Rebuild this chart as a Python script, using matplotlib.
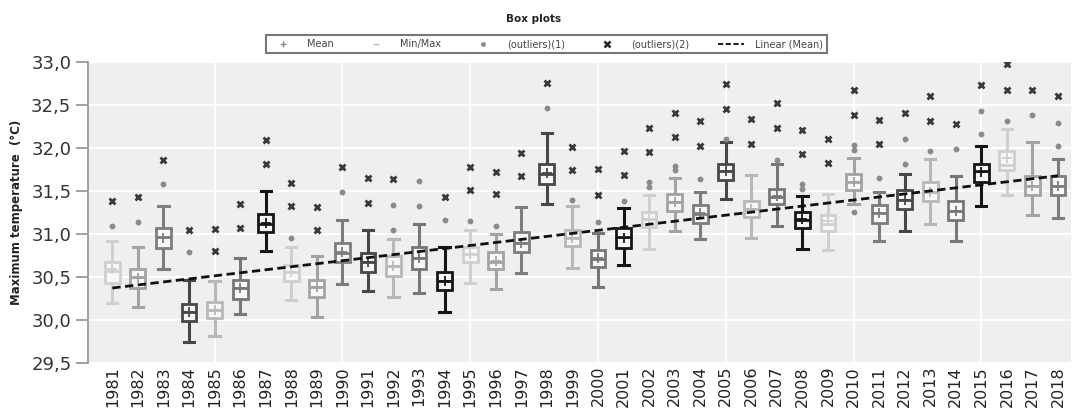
import numpy as np
import matplotlib
matplotlib.use("Agg")
import matplotlib.pyplot as plt
from matplotlib.lines import Line2D
from matplotlib.ticker import FuncFormatter

years = list(range(1981, 2019))

wmin = [30.20, 30.15, 30.59, 29.74, 29.81, 30.07, 30.80, 30.23, 30.04, 30.42,
        30.34, 30.27, 30.32, 30.10, 30.43, 30.36, 30.55, 31.35, 30.60, 30.38,
        30.64, 30.83, 31.03, 30.94, 31.41, 30.96, 31.09, 30.83, 30.81, 31.35,
        30.92, 31.03, 31.12, 30.92, 31.33, 31.45, 31.22, 31.19]
wmax = [30.92, 30.85, 31.33, 30.47, 30.45, 30.72, 31.50, 30.85, 30.74, 31.16,
        31.05, 30.94, 31.12, 30.85, 31.05, 31.00, 31.32, 32.17, 31.33, 31.01,
        31.30, 31.45, 31.65, 31.49, 32.07, 31.69, 31.82, 31.44, 31.47, 31.89,
        31.49, 31.70, 31.87, 31.67, 32.02, 32.22, 32.07, 31.87]
q1 = [30.43, 30.37, 30.84, 29.99, 30.02, 30.25, 31.02, 30.46, 30.27, 30.68,
      30.56, 30.51, 30.59, 30.35, 30.68, 30.59, 30.79, 31.58, 30.86, 30.62,
      30.84, 31.08, 31.27, 31.13, 31.63, 31.20, 31.35, 31.07, 31.03, 31.51,
      31.13, 31.29, 31.38, 31.16, 31.61, 31.74, 31.45, 31.45]
q3 = [30.68, 30.59, 31.07, 30.19, 30.21, 30.47, 31.23, 30.64, 30.47, 30.90,
      30.78, 30.74, 30.85, 30.56, 30.85, 30.79, 31.02, 31.82, 31.05, 30.81,
      31.07, 31.26, 31.47, 31.34, 31.82, 31.38, 31.52, 31.26, 31.22, 31.70,
      31.34, 31.51, 31.60, 31.38, 31.82, 31.96, 31.67, 31.67]
medians = [30.57, 30.50, 30.97, 30.10, 30.12, 30.37, 31.12, 30.56, 30.38, 30.78,
           30.68, 30.63, 30.72, 30.45, 30.77, 30.68, 30.90, 31.70, 30.96, 30.71,
           30.97, 31.17, 31.37, 31.23, 31.73, 31.29, 31.43, 31.16, 31.12, 31.61,
           31.24, 31.40, 31.49, 31.27, 31.73, 31.80, 31.56, 31.56]
means = [30.59, 30.49, 30.96, 30.10, 30.12, 30.37, 31.13, 30.56, 30.38, 30.79,
         30.68, 30.63, 30.72, 30.46, 30.77, 30.69, 30.90, 31.71, 30.96, 30.72,
         30.96, 31.17, 31.37, 31.24, 31.73, 31.29, 31.44, 31.17, 31.15, 31.61,
         31.24, 31.40, 31.49, 31.27, 31.72, 31.88, 31.56, 31.56]
outliers1 = [[31.09], [31.14], [31.58], [30.79], [], [], [], [30.95], [], [31.49],
             [], [31.34, 31.05], [31.62, 31.33], [31.16], [31.15], [31.09], [],
             [32.46], [31.40], [31.14], [31.38], [31.61, 31.55], [31.79, 31.74],
             [31.64], [32.10], [], [31.86], [31.58, 31.52], [], [32.03, 31.98, 31.26],
             [31.65], [32.11, 31.82], [31.97], [31.99], [32.43, 32.16], [32.32],
             [32.38], [32.29, 32.02]]
outliers2 = [[31.38], [31.43], [31.86], [31.05], [31.06, 30.80], [31.35, 31.07],
             [32.09, 31.81], [31.59, 31.33], [31.32, 31.05], [31.78], [31.65, 31.36],
             [31.64], [], [31.43], [31.78, 31.51], [31.72, 31.47], [31.94, 31.67],
             [32.76], [32.01, 31.74], [31.76, 31.46], [31.97, 31.69], [32.23, 31.95],
             [32.41, 32.13], [32.31, 32.02], [32.74, 32.45], [32.34, 32.05],
             [32.52, 32.23], [32.21, 31.93], [32.10, 31.83], [32.67, 32.38],
             [32.33, 32.05], [32.41], [32.60, 32.31], [32.28], [32.73], [32.98, 32.67],
             [32.68], [32.60]]

# per-year grey shade (7-step cycle as in the reference)
shade_cycle = ["#cfcfcf", "#a3a3a3", "#7d7d7d", "#474747", "#b8b8b8", "#777777", "#161616"]
colors = [shade_cycle[i % 7] for i in range(len(years))]

plt.rcParams['font.family'] = ['DejaVu Sans']

fig = plt.figure(figsize=(10.74, 4.08), dpi=100)
ax = fig.add_axes([0.082, 0.110, 0.915, 0.738])
ax.set_facecolor("#efefef")

pos = np.arange(len(years))
stats = []
for i in range(len(years)):
    stats.append(dict(med=medians[i], q1=q1[i], q3=q3[i], whislo=wmin[i],
                      whishi=wmax[i], mean=means[i], fliers=[]))

bp = ax.bxp(stats, positions=pos, widths=0.58, showmeans=True, patch_artist=True,
            showfliers=False, manage_ticks=False)
for i in range(len(years)):
    c = colors[i]
    bp['boxes'][i].set(facecolor="#f7f7f7", edgecolor=c, linewidth=2.0, zorder=3)
    bp['medians'][i].set(color=c, linewidth=2.0, zorder=4)
    for w in bp['whiskers'][2 * i:2 * i + 2]:
        w.set(color=c, linewidth=2.2, zorder=2)
    for cp in bp['caps'][2 * i:2 * i + 2]:
        cp.set(color=c, linewidth=2.2, zorder=2)
        cp.set_xdata([pos[i] - 0.2, pos[i] + 0.2])
    bp['means'][i].set(marker='+', markeredgecolor=c, markerfacecolor=c,
                       markersize=7, markeredgewidth=1.3, zorder=5)

# outliers
for i in range(len(years)):
    if outliers1[i]:
        ax.plot([pos[i]] * len(outliers1[i]), outliers1[i], linestyle='none',
                marker='o', markersize=3.2, color='#8a8a8a', zorder=4)
    if outliers2[i]:
        ax.plot([pos[i]] * len(outliers2[i]), outliers2[i], linestyle='none',
                marker='x', markersize=4.5, markeredgewidth=2.0, color='#3a3a3a', zorder=4)

# linear trend of the means
coef = np.polyfit(pos, means, 1)
ax.plot([pos[0], pos[-1]], np.polyval(coef, [pos[0], pos[-1]]), color='#111111',
        linestyle=(0, (3, 1.6)), linewidth=2.0, zorder=6)

ax.set_ylim(29.5, 33.0)
ax.set_xlim(-0.95, len(years) - 0.5)
ax.set_yticks(np.arange(29.5, 33.01, 0.5))
ax.yaxis.set_major_formatter(FuncFormatter(lambda v, p: f"{v:.1f}".replace('.', ',')))
ax.set_xticks(pos)
ax.set_xticklabels([str(y) for y in years], rotation=90, fontsize=11.5, color='#222222')
ax.tick_params(axis='x', length=0, pad=2)
ax.tick_params(axis='y', length=9, width=1.3, color='#9a9a9a', labelsize=13,
               labelcolor='#333333', pad=3)

# grid: horizontal at every 0.5, vertical every 5 years
for v in np.arange(29.5, 33.01, 0.5):
    ax.axhline(v, color='white', linewidth=1.4, zorder=0.5)
for i in range(4, len(years), 5):
    ax.axvline(pos[i], color='white', linewidth=1.4, zorder=0.5)

for s in ['top', 'right', 'bottom']:
    ax.spines[s].set_visible(False)
ax.spines['left'].set_color('#9a9a9a')
ax.spines['left'].set_linewidth(1.3)

ax.set_ylabel("Maximum temperature  (°C)", fontsize=8.5, fontweight='bold',
              color='#222222', labelpad=6)

fig.text(0.497, 0.953, "Box plots", ha='center', va='center', fontsize=7.5,
         fontweight='bold', color='#222222')

handles = [
    Line2D([], [], linestyle='none', marker='+', markersize=4, color='#8a8a8a'),
    Line2D([], [], linestyle='none', marker='_', markersize=4, color='#bbbbbb'),
    Line2D([], [], linestyle='none', marker='o', markersize=2.5, color='#8a8a8a'),
    Line2D([], [], linestyle='none', marker='x', markersize=4, markeredgewidth=1.8, color='#222222'),
    Line2D([], [], linestyle=(0, (2.5, 1.2)), linewidth=1.5, color='#222222'),
]
labels = ["Mean", "Min/Max", "(outliers)(1)", "(outliers)(2)", "Linear (Mean)"]
leg = fig.legend(handles, labels, loc='center', bbox_to_anchor=(0.509, 0.892), ncol=5,
                 fontsize=7, frameon=True, fancybox=False, edgecolor='#555555',
                 handlelength=2.6, columnspacing=3.0, handletextpad=1.2,
                 borderpad=0.4, labelcolor='#444444')
leg.get_frame().set_linewidth(1.5)

fig.savefig("out.png", dpi=100)
